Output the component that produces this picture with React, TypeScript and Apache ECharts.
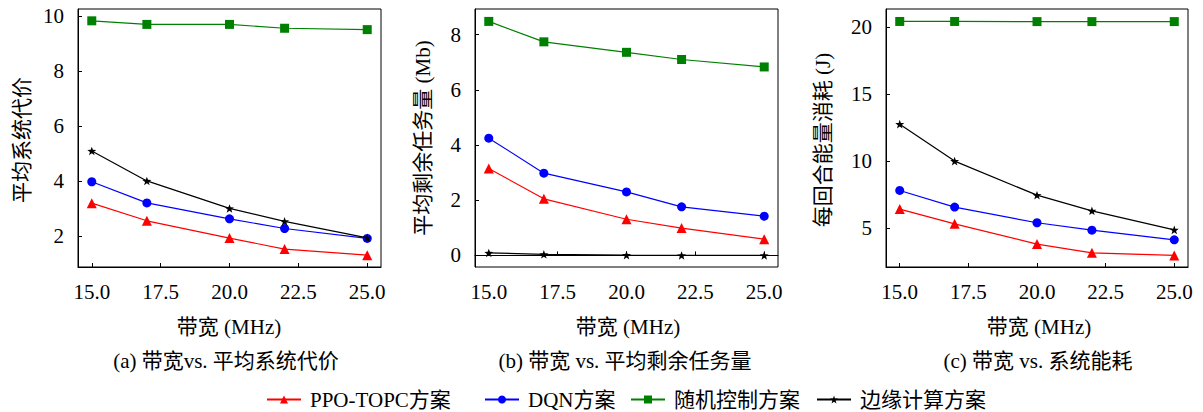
import React, { useEffect, useRef } from "react";
import * as echarts from "echarts";

const bandwidth = [15, 17, 20, 22, 25];
const xTicks = [15, 17.5, 20, 22.5, 25];

const seriesNames = ["PPO-TOPC方案", "DQN方案", "随机控制方案", "边缘计算方案"];

// (a) 平均系统代价
const ppoA = [3.21, 2.57, 1.94, 1.54, 1.32];
const dqnA = [3.99, 3.22, 2.64, 2.29, 1.93];
const randA = [9.84, 9.71, 9.71, 9.57, 9.52];
const edgeA = [5.11, 4.02, 3.02, 2.55, 1.95];
const yTicksA = [2, 4, 6, 8, 10];

// (b) 平均剩余任务量 (Mb)
const ppoB = [3.15, 2.05, 1.31, 0.99, 0.59];
const dqnB = [4.25, 2.98, 2.3, 1.76, 1.42];
const randB = [8.48, 7.74, 7.36, 7.1, 6.83];
const edgeB = [0.09, 0.04, 0.01, 0.0, 0.0];
const yTicksB = [0, 2, 4, 6, 8];

// (c) 每回合能量消耗 (J)
const ppoC = [6.42, 5.32, 3.81, 3.16, 2.96];
const dqnC = [7.81, 6.57, 5.4, 4.85, 4.13];
const randC = [20.42, 20.42, 20.41, 20.41, 20.41];
const edgeC = [12.76, 10.0, 7.46, 6.29, 4.87];
const yTicksC = [5, 10, 15, 20];

const yTitles = ["平均系统代价", "平均剩余任务量 (Mb)", "每回合能量消耗 (J)"];
const xTitle = "带宽 (MHz)";
const captions = ["(a) 带宽vs. 平均系统代价", "(b) 带宽 vs. 平均剩余任务量", "(c) 带宽 vs. 系统能耗"];

const FONT = "'Liberation Serif', 'Noto Sans CJK SC', serif";
const NUM_FONT = "'Liberation Serif'";
const FS = 21;

const STAR =
  "path://M0,-10 L2.35,-3.24 L9.51,-3.09 L3.8,1.24 L5.88,8.09 L0,4 L-5.88,8.09 L-3.8,1.24 L-9.51,-3.09 L-2.35,-3.24 Z";

export default function App() {
  const ref = useRef<HTMLDivElement>(null);

  useEffect(() => {
    if (!ref.current) return;
    const chart = echarts.init(ref.current, null, { renderer: "svg" });

    const panels = [
      { data: [ppoA, dqnA, randA, edgeA], yTicks: yTicksA, yMin: 0.89, yMax: 10.27 },
      { data: [ppoB, dqnB, randB, edgeB], yTicks: yTicksB, yMin: -0.42, yMax: 8.93 },
      { data: [ppoC, dqnC, randC, edgeC], yTicks: yTicksC, yMin: 2.1, yMax: 21.35 },
    ];
    const gridLefts = [78, 475, 886];
    const gridWidth = [303, 303, 302];
    const titleX = [229, 628, 1039];
    const captionX = [226, 625, 1038];
    const yTitlePos = [
      [22, 140],
      [423, 138],
      [823, 140],
    ];

    const colors = ["#ff0000", "#0000ff", "#008000", "#000000"];
    const symbols = ["triangle", "circle", "rect", STAR];
    const sizes = [10, 9, 9, 9];

    const axisCommon = {
      axisLine: { show: true, lineStyle: { color: "#000", width: 1 } },
      splitLine: { show: false },
    };

    const grid = panels.map((_, i) => ({
      left: gridLefts[i],
      top: 9,
      width: gridWidth[i],
      height: 258,
      show: true,
      borderColor: "#000",
      borderWidth: 1,
      backgroundColor: "transparent",
    }));

    const labelStyle = {
      margin: 14,
      fontSize: FS,
      fontFamily: NUM_FONT,
      fontWeight: "normal",
      color: "#000",
    };

    const xAxis = panels.map((_, i) => ({
      type: "value",
      gridIndex: i,
      min: 14.5,
      max: 25.5,
      ...axisCommon,
      axisTick: { show: true, inside: true, length: 4, customValues: xTicks, lineStyle: { color: "#000" } },
      axisLabel: {
        ...labelStyle,
        customValues: xTicks,
        formatter: (v: number) => v.toFixed(1),
      },
    }));

    const yAxis = panels.map((p, i) => ({
      type: "value",
      gridIndex: i,
      min: p.yMin,
      max: p.yMax,
      ...axisCommon,
      axisTick: { show: true, inside: true, length: 4, customValues: p.yTicks, lineStyle: { color: "#000" } },
      axisLabel: {
        ...labelStyle,
        customValues: p.yTicks,
        formatter: (v: number) => String(v),
      },
    }));

    const series: any[] = [];
    panels.forEach((p, i) => {
      p.data.forEach((vals, k) => {
        series.push({
          type: "line",
          name: seriesNames[k],
          xAxisIndex: i,
          yAxisIndex: i,
          data: bandwidth.map((x, j) => [x, vals[j]]),
          symbol: symbols[k],
          symbolSize: sizes[k],
          symbolKeepAspect: true,
          showAllSymbol: true,
          lineStyle: { color: colors[k], width: 1.2 },
          itemStyle: { color: colors[k] },
          z: 2 + k,
        });
      });
    });

    const legendLefts = [266, 484, 630, 816];
    const legend = seriesNames.map((n, i) => ({
      data: [n],
      left: legendLefts[i],
      top: 389,
      padding: 0,
      itemWidth: 34,
      itemHeight: 10,
      itemGap: 0,
      selectedMode: false,
      textStyle: { fontSize: FS, fontFamily: FONT, color: "#000", padding: [0, 0, 0, 4] },
    }));

    const textStyle = (text: string) => ({
      text,
      fontSize: FS,
      fontFamily: FONT,
      fontWeight: "normal",
      fill: "#000",
      align: "center",
      verticalAlign: "middle",
    });

    const graphic: any[] = [];
    panels.forEach((_, i) => {
      graphic.push({
        type: "text",
        x: yTitlePos[i][0],
        y: yTitlePos[i][1],
        rotation: Math.PI / 2,
        style: textStyle(yTitles[i]),
      });
      graphic.push({ type: "text", x: titleX[i], y: 327, style: textStyle(xTitle) });
      graphic.push({ type: "text", x: captionX[i], y: 361, style: textStyle(captions[i]) });
    });

    chart.setOption({
      animation: false,
      backgroundColor: "#fff",
      textStyle: { fontFamily: FONT },
      grid,
      xAxis,
      yAxis,
      series,
      legend,
      graphic,
    } as any);

    return () => chart.dispose();
  }, []);

  return (
    <div
      ref={ref}
      style={{ position: "absolute", left: 0, top: 0, width: 1203, height: 412 }}
    />
  );
}
